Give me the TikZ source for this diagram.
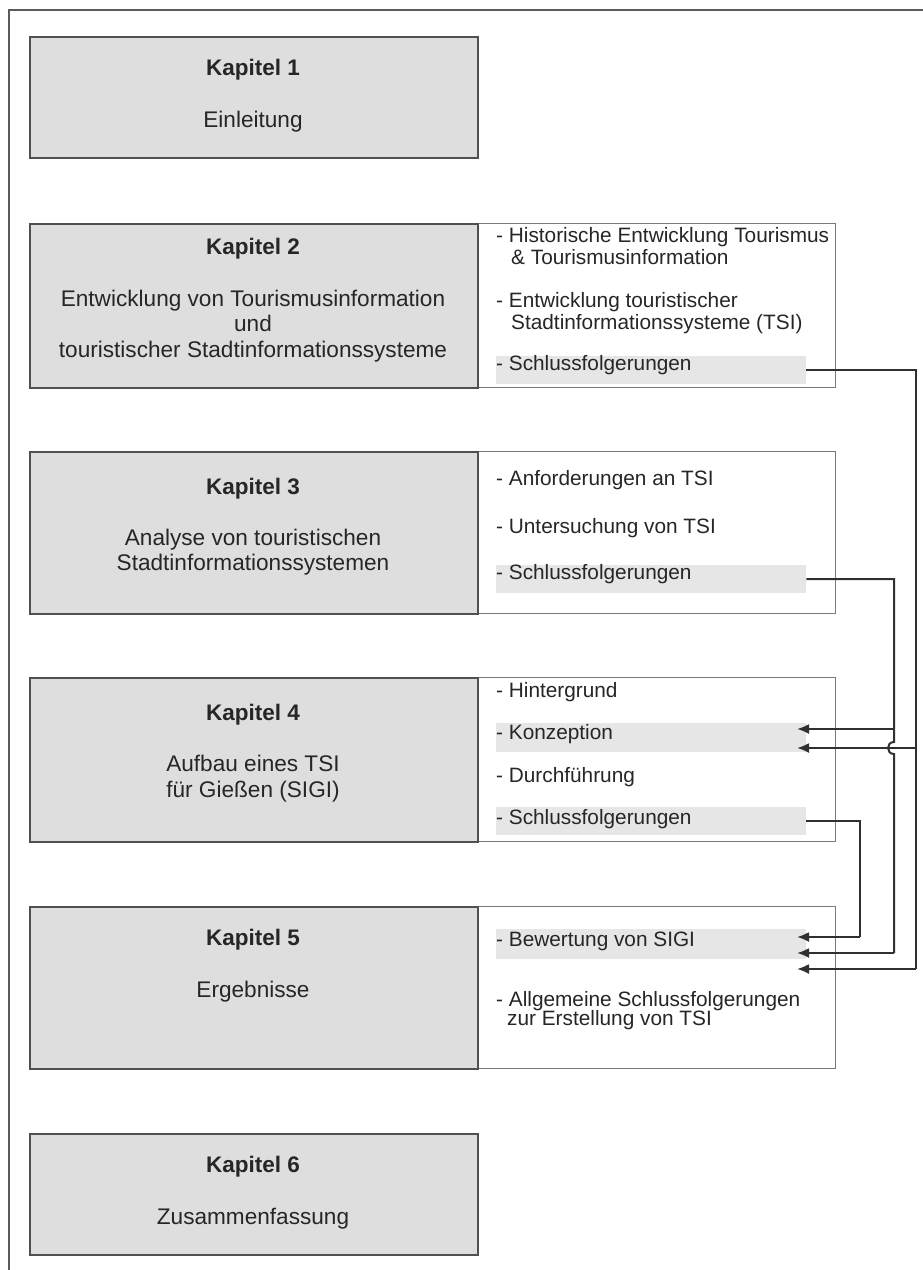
\documentclass[tikz,border=0pt]{standalone}
\usepackage{fontspec}
\setmainfont{Liberation Sans}
\usetikzlibrary{arrows.meta}

\definecolor{boxgray}{HTML}{DEDEDE}
\definecolor{bandgray}{HTML}{E6E6E6}
\definecolor{boxline}{HTML}{505050}
\definecolor{listline}{HTML}{7A7A7A}
\definecolor{frameline}{HTML}{5A5A5A}
\definecolor{ink}{HTML}{262626}
\definecolor{linkcol}{HTML}{303030}

\tikzset{
  chap/.style={draw=boxline, fill=boxgray, line width=1.6pt, minimum width=448pt,
               anchor=north west, inner sep=0pt},
  list/.style={draw=listline, fill=white, line width=1.4pt, minimum width=358pt,
               anchor=north west, inner sep=0pt},
  band/.style={fill=bandgray, minimum width=310pt, anchor=west, inner sep=0pt},
  ttl/.style={font=\bfseries\fontsize{22.5}{26}\selectfont, text=ink, anchor=mid, inner sep=0pt},
  sub/.style={font=\fontsize{22.6}{26}\selectfont, text=ink, anchor=mid, inner sep=0pt},
  item/.style={font=\fontsize{20.8}{22}\selectfont, text=ink, anchor=mid west, inner sep=0pt},
  link/.style={draw=linkcol, line width=2pt},
  arr/.style={link, -{Latex[length=12pt,width=10pt]}},
}

\begin{document}
\begin{tikzpicture}[x=1pt,y=-1pt]
\useasboundingbox (0,0) rectangle (923,1270);

% outer frame (open to the right and bottom)
\draw[frameline, line width=1.6pt] (9,1270) -- (9,10) -- (923,10);

% ---------- Kapitel 1 ----------
\node[chap, minimum height=121pt] (k1) at (29,36) {};
\node[ttl] (k1t) at (253,73) {Kapitel 1};
\node[sub] (k1s) at (253,125) {Einleitung};

% ---------- Kapitel 2 ----------
\node[list, minimum height=164pt] (k2r) at (477,223) {};
\node[chap, minimum height=164pt] (k2) at (29,223) {};
\node[band, minimum height=28pt] (k2b) at (496,370) {};
\node[ttl] (k2t) at (253,252) {Kapitel 2};
\node[sub] (k2s1) at (253,304) {Entwicklung von Tourismusinformation};
\node[sub] (k2s2) at (253,329) {und};
\node[sub] (k2s3) at (253,355) {touristischer Stadtinformationssysteme};
\node[item] (k2i1) at (496,240) {- Historische Entwicklung Tourismus};
\node[item] (k2i1b) at (511,262) {\& Tourismusinformation};
\node[item] (k2i2) at (496,305) {- Entwicklung touristischer};
\node[item] (k2i2b) at (511,327) {Stadtinformationssysteme (TSI)};
\node[item] (k2i3) at (496,368) {- Schlussfolgerungen};

% ---------- Kapitel 3 ----------
\node[list, minimum height=162pt] (k3r) at (477,451) {};
\node[chap, minimum height=162pt] (k3) at (29,451) {};
\node[band, minimum height=28pt] (k3b) at (496,579) {};
\node[ttl] (k3t) at (253,492) {Kapitel 3};
\node[sub] (k3s1) at (253,543) {Analyse von touristischen};
\node[sub] (k3s2) at (253,568) {Stadtinformationssystemen};
\node[item] (k3i1) at (496,483) {- Anforderungen an TSI};
\node[item] (k3i2) at (496,531) {- Untersuchung von TSI};
\node[item] (k3i3) at (496,577) {- Schlussfolgerungen};

% ---------- Kapitel 4 ----------
\node[list, minimum height=164pt] (k4r) at (477,677) {};
\node[chap, minimum height=164pt] (k4) at (29,677) {};
\node[band, minimum height=29pt] (k4b1) at (496,737) {};
\node[band, minimum height=28pt] (k4b2) at (496,821) {};
\node[ttl] (k4t) at (253,718) {Kapitel 4};
\node[sub] (k4s1) at (253,769) {Aufbau eines TSI};
\node[sub] (k4s2) at (253,795) {für Gießen (SIGI)};
\node[item] (k4i1) at (496,695) {- Hintergrund};
\node[item] (k4i2) at (496,737) {- Konzeption};
\node[item] (k4i3) at (496,780) {- Durchführung};
\node[item] (k4i4) at (496,822) {- Schlussfolgerungen};

% ---------- Kapitel 5 ----------
\node[list, minimum height=162pt] (k5r) at (477,906) {};
\node[chap, minimum height=162pt] (k5) at (29,906) {};
\node[band, minimum height=30pt] (k5b) at (496,944) {};
\node[ttl] (k5t) at (253,943) {Kapitel 5};
\node[sub] (k5s) at (253,995) {Ergebnisse};
\node[item] (k5i1) at (496,944) {- Bewertung von SIGI};
\node[item] (k5i2) at (496,1004) {- Allgemeine Schlussfolgerungen};
\node[item] (k5i2b) at (507,1023) {zur Erstellung von TSI};

% ---------- Kapitel 6 ----------
\node[chap, minimum height=121pt] (k6) at (29,1133) {};
\node[ttl] (k6t) at (253,1170) {Kapitel 6};
\node[sub] (k6s) at (253,1222) {Zusammenfassung};

% ---------- connectors ----------
% arrow targets inside the highlighted rows
\coordinate (konzA) at (797,729);
\coordinate (konzB) at (797,748);
\coordinate (bewA) at (797,937);
\coordinate (bewB) at (797,953);
\coordinate (bewC) at (797,969);

% Kapitel 2 conclusions -> Konzeption, Bewertung
\draw[link] (k2b.east) -- (916,370) -- (916,969);
\draw[arr] (916,748) -- (konzB);
\draw[arr] (916,969) -- (bewC);

% Kapitel 3 conclusions -> Konzeption, Bewertung (hops over the line above)
\draw[link] (k3b.east) -- (894,579) -- (894,742)
  .. controls (886,742) and (886,754) .. (894,754) -- (894,953);
\draw[arr] (894,729) -- (konzA);
\draw[arr] (894,953) -- (bewB);

% Kapitel 4 conclusions -> Bewertung
\draw[link] (k4b2.east) -- (860,821) -- (860,937);
\draw[arr] (860,937) -- (bewA);

\end{tikzpicture}
\end{document}
